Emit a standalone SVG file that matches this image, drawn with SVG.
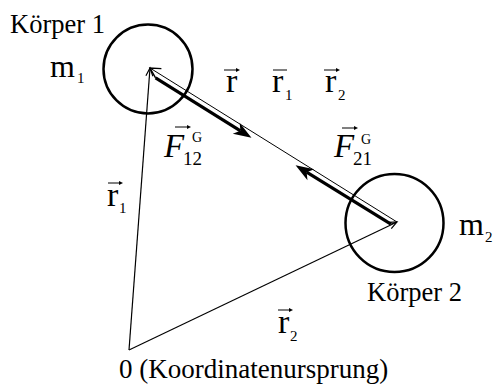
<svg xmlns="http://www.w3.org/2000/svg" width="495" height="385" viewBox="0 0 495 385">
<style>
text{font-family:"Liberation Serif","Times New Roman",serif;fill:#000}
.big{font-size:26.5px}
.m{font-size:32px}
.r{font-size:34px}
.sub{font-size:15px}
.F{font-size:33px;font-style:italic}
.fsub{font-size:19px}
.fsup{font-size:14px}
.body{fill:none;stroke:#000;stroke-width:2.5}
.thin{fill:none;stroke:#000;stroke-width:1.2}
.hair{fill:none;stroke:#000;stroke-width:1}
.thick{fill:none;stroke:#000;stroke-width:3.2}
.acc{fill:none;stroke:#000;stroke-width:1}
</style>
<defs>
<marker id="vs" viewBox="-10 -5 12 10" refX="0" refY="0" markerWidth="12" markerHeight="10" markerUnits="userSpaceOnUse" orient="auto" overflow="visible">
<path d="M-8,-3.5 L0,0 L-8,3.5" fill="none" stroke="#000" stroke-width="1.2"/>
</marker>
<marker id="vl" viewBox="-12 -7 14 14" refX="0" refY="0" markerWidth="14" markerHeight="14" markerUnits="userSpaceOnUse" orient="auto" overflow="visible">
<path d="M-10,-5.5 L0,0 L-10,5.5" fill="none" stroke="#000" stroke-width="1.4"/>
</marker>
<marker id="barb" viewBox="-7 -8 21 16" refX="0" refY="0" markerWidth="21" markerHeight="16" markerUnits="userSpaceOnUse" orient="auto" overflow="visible">
<path d="M13,0 L-5,-6.5 L0,0 L-5,6.5 Z" fill="#000"/>
</marker>
<marker id="acc" viewBox="-1 -3 7 6" refX="0" refY="0" markerWidth="7" markerHeight="6" markerUnits="userSpaceOnUse" orient="auto" overflow="visible">
<path d="M-1,-2 L3,0 L-1,2 Z" fill="#000"/>
</marker>
</defs>

<g id="body1">
<circle class="body" cx="148" cy="69" r="44.5"/>
<text class="big" x="10" y="33">Körper 1</text>
<text class="m" x="50" y="77">m<tspan class="sub" x="77" y="83">1</tspan></text>
</g>

<g id="body2">
<circle class="body" cx="394.5" cy="223" r="49"/>
<text class="big" x="367" y="301">Körper 2</text>
<text class="m" x="459" y="235">m<tspan class="sub" x="485" y="242">2</tspan></text>
</g>

<g id="origin">
<text class="big" x="119" y="378" style="font-size:27px">0 (Koordinatenursprung)</text>
</g>

<g id="connectors">
<line id="r1" class="thin" x1="129" y1="350" x2="150" y2="68" marker-end="url(#vs)"/>
<line id="r2" class="thin" x1="129" y1="350" x2="397" y2="222" marker-end="url(#vs)"/>
<line id="r" class="hair" x1="397" y1="222" x2="150" y2="68" marker-end="url(#vl)"/>
<line id="F12" class="thick" x1="155.58" y1="77.96" x2="240.44" y2="130.87" marker-end="url(#barb)"/>
<polyline id="F21tail" class="hair" points="397,222 390.9,224.1"/>
<line id="F21" class="thick" x1="390.9" y1="224.1" x2="306.63" y2="172.14" marker-end="url(#barb)"/>
</g>

<g id="labels">
<g id="lbl-r">
<line class="acc" x1="224" y1="70" x2="237" y2="70" marker-end="url(#acc)"/>
<text class="r" x="226" y="92">r</text>
</g>
<g id="lbl-r1bar">
<line class="acc" x1="273" y1="70" x2="287" y2="70"/>
<text class="r" x="272" y="92">r<tspan class="sub" x="285" y="100">1</tspan></text>
</g>
<g id="lbl-r2top">
<line class="acc" x1="324" y1="70" x2="337" y2="70" marker-end="url(#acc)"/>
<text class="r" x="325" y="92">r<tspan class="sub" x="338" y="100">2</tspan></text>
</g>
<g id="lbl-r1">
<line class="acc" x1="108" y1="183" x2="120" y2="183" marker-end="url(#acc)"/>
<text class="r" x="107" y="206">r<tspan class="sub" x="119" y="213">1</tspan></text>
</g>
<g id="lbl-r2">
<line class="acc" x1="278" y1="310" x2="290" y2="310" marker-end="url(#acc)"/>
<text class="r" x="278" y="333">r<tspan class="sub" x="290" y="341">2</tspan></text>
</g>
<g id="lbl-F12">
<line class="acc" x1="175" y1="127" x2="188" y2="127" marker-end="url(#acc)"/>
<text class="F" x="164" y="157">F</text>
<text class="fsup" x="192" y="142">G</text>
<text class="fsub" x="183" y="165">12</text>
</g>
<g id="lbl-F21">
<line class="acc" x1="342" y1="128" x2="355" y2="128" marker-end="url(#acc)"/>
<text class="F" x="334" y="157">F</text>
<text class="fsup" x="361" y="144">G</text>
<text class="fsub" x="353" y="165">21</text>
</g>
</g>
</svg>
